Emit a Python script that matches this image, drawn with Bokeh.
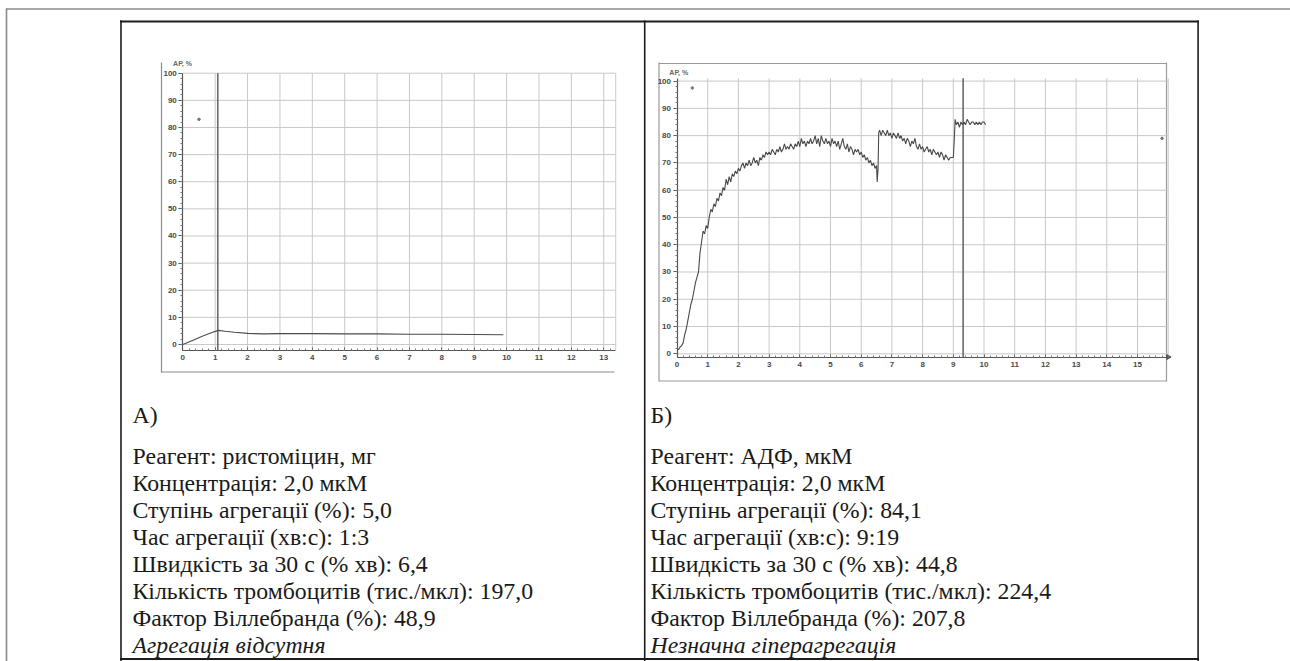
import math
from bokeh.plotting import figure
from bokeh.models import Range1d, LinearAxis, FixedTicker
from bokeh.embed import file_html
from bokeh.resources import INLINE
from bokeh.core.properties import value

# ---------------- data ----------------
# Chart A (ristocetin): time (min) vs aggregation (%)
a_time = [0.0, 0.3, 0.6, 0.9, 1.1, 1.3, 1.6, 2.0, 2.5, 3.0, 4.0, 5.0, 6.0, 7.0, 8.0, 9.0, 9.9]
a_agg = [0.0, 1.5, 3.0, 4.4, 5.2, 4.9, 4.5, 4.1, 3.9, 4.0, 4.0, 3.9, 3.9, 3.8, 3.8, 3.7, 3.6]
a_marker = 1.08
a_xticks = [0, 1, 2, 3, 4, 5, 6, 7, 8, 9, 10, 11, 12, 13]
a_yticks = [0, 10, 20, 30, 40, 50, 60, 70, 80, 90, 100]
a_speck_t = [0.5]
a_speck_v = [83]

# Chart B (ADP)
b_time = [
    0.00, 0.05, 0.10, 0.15, 0.20, 0.25, 0.30, 0.35, 0.40, 0.45, 0.50, 0.55, 0.60, 0.65, 0.70, 0.75, 0.80, 0.85, 0.90, 0.95,
    1.00, 1.05, 1.10, 1.15, 1.20, 1.25, 1.30, 1.35, 1.40, 1.45, 1.50, 1.55, 1.60, 1.65, 1.70, 1.75, 1.80, 1.85, 1.90, 1.95,
    2.00, 2.05, 2.10, 2.15, 2.20, 2.25, 2.30, 2.35, 2.40, 2.45, 2.50, 2.55, 2.60, 2.65, 2.70, 2.75, 2.80, 2.85, 2.90, 2.95,
    3.00, 3.05, 3.10, 3.15, 3.20, 3.25, 3.30, 3.35, 3.40, 3.45, 3.50, 3.55, 3.60, 3.65, 3.70, 3.75, 3.80, 3.85, 3.90, 3.95,
    4.00, 4.05, 4.10, 4.15, 4.20, 4.25, 4.30, 4.35, 4.40, 4.45, 4.50, 4.55, 4.60, 4.65, 4.70, 4.75, 4.80, 4.85, 4.90, 4.95,
    5.00, 5.05, 5.10, 5.15, 5.20, 5.25, 5.30, 5.35, 5.40, 5.45, 5.50, 5.55, 5.60, 5.65, 5.70, 5.75, 5.80, 5.85, 5.90, 5.95,
    6.00, 6.05, 6.10, 6.15, 6.20, 6.25, 6.30, 6.35, 6.40, 6.45,
    6.50, 6.52, 6.55, 6.57, 6.60, 6.65, 6.70, 6.75, 6.80, 6.85, 6.90, 6.95,
    7.00, 7.05, 7.10, 7.15, 7.20, 7.25, 7.30, 7.35, 7.40, 7.45, 7.50, 7.55, 7.60, 7.65, 7.70, 7.75, 7.80, 7.85, 7.90, 7.95,
    8.00, 8.05, 8.10, 8.15, 8.20, 8.25, 8.30, 8.35, 8.40, 8.45, 8.50, 8.55, 8.60, 8.65, 8.70, 8.75, 8.80, 8.85, 8.90, 8.95,
    9.00, 9.03, 9.06, 9.10,
    9.15, 9.20, 9.25, 9.30, 9.35, 9.40, 9.45, 9.50, 9.55, 9.60, 9.65, 9.70, 9.75, 9.80, 9.85, 9.90, 9.95,
    10.00, 10.05,
]
b_agg = [
    2, 1.5, 2.5, 3, 4, 7, 9, 12, 15, 18, 20, 23, 26, 28, 30, 37, 41, 45, 44, 47,
    46, 50, 53, 52, 55, 54, 57, 56, 59, 58, 61, 60, 64, 62, 65, 63, 66, 65, 67, 66,
    68, 67, 69, 70, 68, 70, 69, 71, 69, 70, 72, 70, 71, 69, 72, 71, 73, 72, 74, 73,
    74, 73, 75, 74, 73, 75, 74, 76, 74, 75, 77, 75, 76, 75, 77, 76, 75, 77, 76, 78,
    76, 79, 77, 78, 76, 78, 77, 79, 77, 78, 80, 77, 79, 76, 80, 78, 77, 79, 77, 78,
    76, 79, 77, 78, 76, 78, 75, 77, 79, 76, 75, 77, 74, 76, 75, 73, 75, 74, 75, 73,
    74, 72, 73, 71, 72, 70, 71, 69, 70, 68,
    69, 63, 68, 81, 82, 80, 82, 81, 80, 82, 80, 81,
    79, 81, 80, 79, 81, 79, 80, 78, 79, 77, 79, 78, 76, 78, 77, 79, 76, 75, 77, 75,
    76, 74, 75, 76, 74, 75, 73, 75, 74, 73, 74, 72, 74, 73, 71, 73, 72, 71, 72, 72,
    72, 78, 86, 84,
    85, 83, 85, 84, 85, 84, 86, 85, 84, 85, 85, 84, 85, 84, 85, 84, 85,
    85, 84,
]
b_marker = 9.32
b_xticks = [0, 1, 2, 3, 4, 5, 6, 7, 8, 9, 10, 11, 12, 13, 14, 15]
b_yticks = [0, 10, 20, 30, 40, 50, 60, 70, 80, 90, 100]
b_speck_t = [0.5, 15.8]
b_speck_v = [97.5, 79]

y_label = "АР, %"

a_head = "А)"
a_lines = [
    "Реагент: ристоміцин, мг",
    "Концентрація: 2,0 мкМ",
    "Ступінь агрегації (%): 5,0",
    "Час агрегації (хв:с): 1:3",
    "Швидкість за 30 с (% хв): 6,4",
    "Кількість тромбоцитів (тис./мкл): 197,0",
    "Фактор Віллебранда (%): 48,9",
]
a_note = "Агрегація відсутня"

b_head = "Б)"
b_lines = [
    "Реагент: АДФ, мкМ",
    "Концентрація: 2,0 мкМ",
    "Ступінь агрегації (%): 84,1",
    "Час агрегації (хв:с): 9:19",
    "Швидкість за 30 с (% хв): 44,8",
    "Кількість тромбоцитів (тис./мкл): 224,4",
    "Фактор Віллебранда (%): 207,8",
]
b_note = "Незначна гіперагрегація"

# ---------------- layout (page pixels) ----------------
W, H = 1290, 661
X0, Y0 = 0, 0
p = figure(width=W, height=H, x_range=Range1d(X0, X0 + W), y_range=Range1d(Y0 + H, Y0),
           output_backend="svg", toolbar_location=None, min_border=0,
           x_axis_type=None, y_axis_type=None)
p.grid.visible = False
p.outline_line_color = None
p.background_fill_color = "white"
p.border_fill_color = "white"


def xr(px0, ppu):
    return Range1d(start=(X0 - px0) / ppu, end=(X0 + W - px0) / ppu)


def yr(py0, ppu):
    return Range1d(start=(py0 - (Y0 + H)) / ppu, end=(py0 - Y0) / ppu)


p.extra_x_ranges = {"ax": xr(182.3, 32.38), "bx": xr(676.5, 30.7)}
p.extra_y_ranges = {"ay": yr(344.0, 2.713), "by": yr(353.3, 2.727)}

# page frame lines
p.segment(x0=[5.5, 6], y0=[8.5, 8], x1=[1290, 6], y1=[8.5, 661], line_color="#8a8a8a", line_width=1.6)

# table borders
BK = "#1c1c1c"
p.segment(x0=[119.5], y0=[21], x1=[1198.5], y1=[21], line_color=BK, line_width=2.2)
p.segment(x0=[120.5, 644.2, 1197.6], y0=[20, 20, 20], x1=[120.5, 644.2, 1197.6], y1=[661, 661, 661],
          line_color=BK, line_width=1.6)
p.segment(x0=[119.5], y0=[658.5], x1=[1198.5], y1=[658.5], line_color=BK, line_width=2.2)

# scanned printout frames
p.segment(x0=[161, 161], y0=[62, 371.5], x1=[161, 614], y1=[372, 371.5], line_color="#8c8c8c", line_width=1.2)
p.segment(x0=[658.5, 658.5, 658.5, 1166], y0=[62, 380.5, 63, 62], x1=[658.5, 1166, 1166, 1166], y1=[381, 380.5, 63, 381],
          line_color="#9a9a9a", line_width=1.2)

GRID = "#c9c9c9"
AX = "#555555"
DATA = "#4a4a4a"


def chart(xn, yn, xticks, yticks, xmax, xaxis_v, top_v, t, v, marker, st, sv, label_xy, arrow):
    # grid lines
    p.segment(x0=[0] * len(yticks), y0=yticks, x1=[xmax] * len(yticks), y1=yticks,
              line_color=GRID, line_width=1, x_range_name=xn, y_range_name=yn)
    vx = xticks[1:] + [xmax]
    p.segment(x0=vx, y0=[xaxis_v] * len(vx), x1=vx, y1=[top_v] * len(vx),
              line_color=GRID, line_width=1, x_range_name=xn, y_range_name=yn)
    # axes
    ya = LinearAxis(x_range_name=xn, y_range_name=yn, fixed_location=0, bounds=(xaxis_v, top_v),
                    ticker=FixedTicker(ticks=yticks, minor_ticks=[k for k in range(0, 101, 2)]))
    xa = LinearAxis(x_range_name=xn, y_range_name=yn, fixed_location=xaxis_v, bounds=(0, xmax),
                    ticker=FixedTicker(ticks=xticks, minor_ticks=[k / 5 for k in range(0, int(xmax * 5) + 1)]))
    for ax in (ya, xa):
        ax.axis_line_color = AX
        ax.axis_line_width = 1.2
        ax.major_tick_line_color = AX
        ax.minor_tick_line_color = "#777777"
        ax.major_label_text_font = "Liberation Sans"
        ax.major_label_text_font_size = "8px"
        ax.major_label_text_font_style = "bold"
        ax.major_label_text_color = "#4a4a4a"
    ya.major_tick_out = 4
    ya.major_tick_in = 0
    ya.minor_tick_out = 2
    ya.minor_tick_in = 0
    ya.major_label_standoff = 2
    xa.major_tick_out = 0
    xa.major_tick_in = 3
    xa.minor_tick_out = 0
    xa.minor_tick_in = 2
    xa.major_label_standoff = 5
    p.add_layout(ya, "left")
    p.add_layout(xa, "below")
    if arrow:
        p.scatter([xmax], [xaxis_v], marker="triangle", size=5, angle=-math.pi / 2, color=AX,
                  x_range_name=xn, y_range_name=yn)
    # marker line (aggregation time)
    p.segment(x0=[marker], y0=[xaxis_v], x1=[marker], y1=[top_v], line_color="#6a6a6a", line_width=1.6,
              x_range_name=xn, y_range_name=yn)
    # curve
    p.line(t, v, line_color=DATA, line_width=1.1, x_range_name=xn, y_range_name=yn)
    # specks
    p.scatter(st, sv, size=2.5, color="#777777", x_range_name=xn, y_range_name=yn)
    # y label
    p.text(x=[label_xy[0]], y=[label_xy[1]], text=[y_label], text_font=value("Liberation Sans"),
           text_font_size="7px", text_font_style="bold", text_color="#666666", text_baseline="middle",
           x_range_name=xn, y_range_name=yn)


chart("ax", "ay", a_xticks, a_yticks, 13.37, -2.2, 100, a_time, a_agg, a_marker, a_speck_t, a_speck_v,
      (-0.3, 103.5), False)
chart("bx", "by", b_xticks, b_yticks, 16.0, -1.2, 101, b_time, b_agg, b_marker, b_speck_t, b_speck_v,
      (-0.25, 103), True)

# text blocks
FONT = value("Liberation Serif")
FS = "23.8px"
TC = "#1a1a1a"
LINE0, STEP = 455, 27.1
for x, head, lines, note in ((132, a_head, a_lines, a_note), (650, b_head, b_lines, b_note)):
    p.text(x=[x], y=[414], text=[head], text_font=FONT, text_font_size=FS, text_color=TC, text_baseline="middle")
    ys = [LINE0 + STEP * i for i in range(len(lines))]
    p.text(x=[x] * len(lines), y=ys, text=lines, text_font=FONT, text_font_size=FS, text_color=TC,
           text_baseline="middle")
    p.text(x=[x], y=[LINE0 + STEP * len(lines)], text=[note], text_font=FONT, text_font_size=FS,
           text_font_style="italic", text_color=TC, text_baseline="middle")

open("out.html", "w").write(file_html(p, INLINE))
